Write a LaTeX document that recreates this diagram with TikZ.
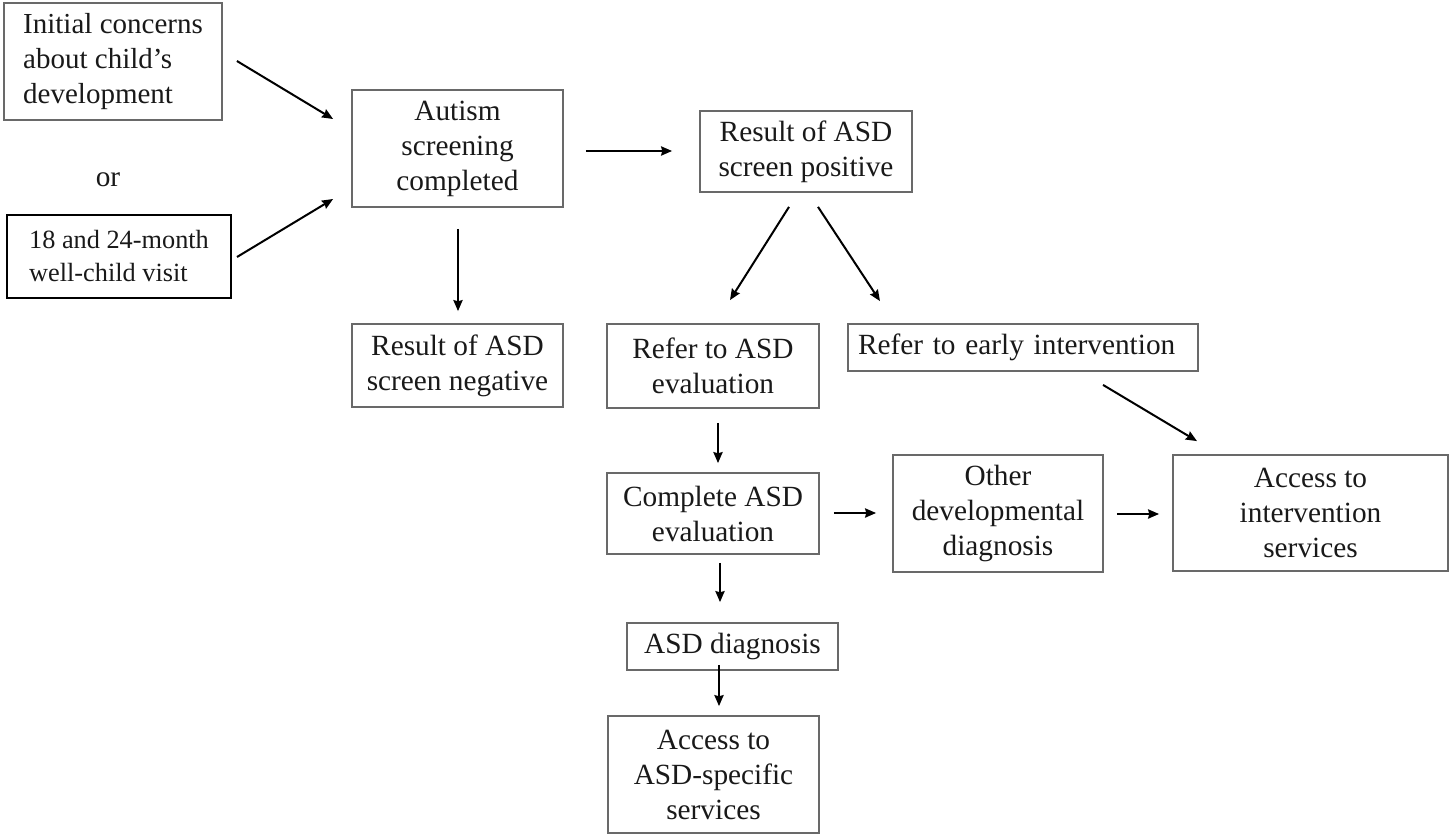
\documentclass[tikz,border=0pt]{standalone}
\usepackage{fontspec}
\setmainfont{Liberation Serif}
\usetikzlibrary{arrows.meta,calc}
\newlength{\pxu}\setlength{\pxu}{0.5pt}
\definecolor{boxgray}{RGB}{105,105,105}
\definecolor{txt}{RGB}{25,25,25}
\begin{document}
\begin{tikzpicture}[x=0.5pt,y=-0.5pt,
  box/.style={draw=boxgray, line width=0.9pt, inner sep=0pt, align=center,
    text=txt, font=\fontsize{14.65}{17.5}\selectfont},
  arr/.style={line width=1pt, draw=black,
    -{Stealth[length=5.5pt,width=4.6pt,inset=0.6pt]}},
]
\fill[white] (0,0) rectangle (1449,834);
\useasboundingbox (0,0) rectangle (1449,834);

% entry points
\node[box, align=left, minimum width=218\pxu, minimum height=117\pxu,
  font=\fontsize{14.5}{17.5}\selectfont] (init) at (113,61.5)
  {Initial concerns\\about child’s\\development};
\node[text=txt, font=\fontsize{14.65}{17}\selectfont] (or) at (108,180) {or};
\node[box, draw=black, line width=1pt, align=left, minimum width=224\pxu,
  minimum height=83\pxu, font=\fontsize{13.15}{16.5}\selectfont] (visit)
  at (119,256.5) {18 and 24-month\\well-child visit};

% screening
\node[box, minimum width=211\pxu, minimum height=117\pxu] (autism)
  at (457.5,148.5) {Autism\\screening\\completed};
\node[box, minimum width=212\pxu, minimum height=81\pxu] (pos)
  at (806,151.5) {Result of ASD\\screen positive};
\node[box, minimum width=211\pxu, minimum height=83\pxu] (neg)
  at (457.5,365.5) {Result of ASD\\screen negative};

% referrals
\node[box, minimum width=212\pxu, minimum height=84\pxu] (refasd)
  at (713,366) {Refer to ASD\\evaluation};
\node[box, minimum width=350\pxu, minimum height=47\pxu,
  text width=330\pxu, align=left] (refei)
  at (1023,347.5) {Refer to early intervention};

% evaluation and outcomes
\node[box, minimum width=212\pxu, minimum height=81\pxu] (complete)
  at (713,513.5) {Complete ASD\\evaluation};
\node[box, minimum width=210\pxu, minimum height=117\pxu] (other)
  at (998,513.5) {Other\\developmental\\diagnosis};
\node[box, minimum width=275\pxu, minimum height=116\pxu] (access)
  at (1310.5,513) {Access to\\intervention\\services};
\node[box, minimum width=211\pxu, minimum height=47\pxu] (diag)
  at (732.5,646.5) {ASD diagnosis};
\node[box, minimum width=211\pxu, minimum height=117\pxu] (accasd)
  at (713.5,774.5) {Access to\\ASD-specific\\services};

% connectors
\draw[arr] ($(init.east)+(14,-0.5)$) -- ($(autism.west)+(-18,-29.5)$);
\draw[arr] ($(visit.east)+(5,0.5)$) -- ($(autism.west)+(-18,50.5)$);
\draw[arr] ($(autism.east)+(22,2.5)$) -- ($(pos.west)+(-27,-0.5)$);
\draw[arr] ($(autism.south)+(0.5,21)$) -- ($(neg.north)+(0.5,-12)$);
\draw[arr] ($(pos.south)+(-17,14)$) -- ($(refasd.north)+(17,-23)$);
\draw[arr] ($(pos.south)+(12,14)$) -- ($(refei.north)+(-143,-22)$);
\draw[arr] ($(refei.south)+(80,13)$) -- ($(access.north)+(-113.5,-13)$);
\draw[arr] ($(refasd.south)+(5,14)$) -- ($(complete.north)+(5,-9)$);
\draw[arr] ($(complete.east)+(14,-0.5)$) -- ($(other.west)+(-16,-0.5)$);
\draw[arr] ($(other.east)+(13,0.5)$) -- ($(access.west)+(-13,1)$);
\draw[arr] ($(complete.south)+(7,8)$) -- ($(diag.north)+(-12.5,-20)$);
\draw[arr] ($(diag.south)+(-13.5,-6)$) -- ($(accasd.north)+(5.5,-9)$);
\end{tikzpicture}
\end{document}
